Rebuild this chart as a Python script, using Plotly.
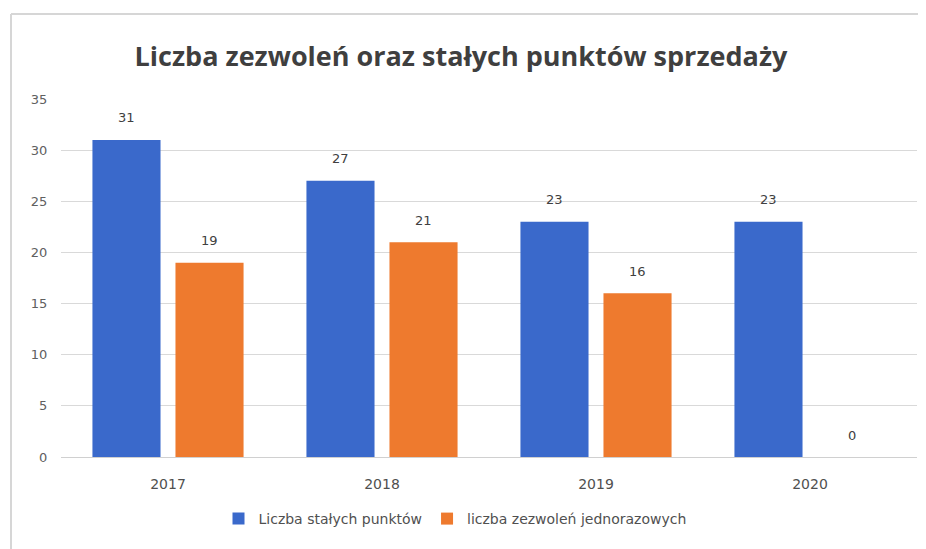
import plotly.graph_objects as go

years = ["2017", "2018", "2019", "2020"]
stale_punkty = [31, 27, 23, 23]
zezwolenia_jednorazowe = [19, 21, 16, 0]
series_names = ["Liczba stałych punktów", "liczba zezwoleń jednorazowych"]
title_text = "Liczba zezwoleń oraz stałych punktów sprzedaży"
y_ticks = [0, 5, 10, 15, 20, 25, 30, 35]

W, H = 926, 549
OFF = 8  # page body margin offset
# target pixel positions in screenshot
PL, PR, PT, PB = 61, 917, 99, 457
ML = PL - OFF
MT = PT - OFF
MR = W - (PR - OFF)
MB = H - (PB - OFF)

BARGAP = 0.224
BARGROUPGAP = 0.18

fig = go.Figure()
colors = ["#3A69CB", "#EE7A2E"]
for name, vals, col in zip(series_names, [stale_punkty, zezwolenia_jednorazowe], colors):
    fig.add_trace(go.Bar(
        x=years, y=vals, name=name,
        marker=dict(color=col, line=dict(width=0)),
    ))

pw = W - ML - MR
ph = H - MT - MB
def px_to_paper_x(px):
    return (px - OFF - ML) / pw
def px_to_paper_y(py):
    return (H - MB - (py - OFF)) / ph

# data labels above bars (x given as category index)
cat_w = pw / len(years)
slot = cat_w * (1 - BARGAP) / 2
annotations = []
for i, vals in enumerate([stale_punkty, zezwolenia_jednorazowe]):
    shift = (i - 0.5) * slot
    for j, v in enumerate(vals):
        annotations.append(dict(
            x=j, y=v, xref="x", yref="y", text=str(v), showarrow=False,
            xshift=shift, yshift=22, yanchor="middle",
            font=dict(family="DejaVu Sans", size=13, color="#404040"),
        ))

fig.update_layout(
    width=W, height=H,
    margin=dict(l=ML, r=MR, t=MT, b=MB),
    paper_bgcolor="white", plot_bgcolor="white",
    barmode="group", bargap=BARGAP, bargroupgap=BARGROUPGAP,
    title=dict(text="<b>" + title_text + "</b>", x=(461 - OFF) / W, xanchor="center",
               y=1 - (57 - OFF) / H, yanchor="middle",
               font=dict(family="Open Sans", size=27, color="#3F3F3F")),
    font=dict(family="DejaVu Sans", size=12, color="#595959"),
    xaxis=dict(type="category", categoryorder="array", categoryarray=years,
               range=[-0.5, len(years) - 0.5],
               showgrid=False, showline=False, ticks="outside", ticklen=14, tickcolor="rgba(0,0,0,0)",
               tickfont=dict(family="DejaVu Sans", size=14, color="#505050")),
    yaxis=dict(range=[0, 35], tickvals=y_ticks, showgrid=True, gridcolor="#D9D9D9",
               gridwidth=1, zeroline=True, zerolinecolor="#D0D0D0", zerolinewidth=1,
               showline=False, ticks="outside", ticklen=10, tickcolor="rgba(0,0,0,0)",
               tickfont=dict(family="DejaVu Sans", size=13, color="#606060")),
    legend=dict(orientation="h", x=px_to_paper_x(455), xanchor="center",
                y=px_to_paper_y(519), yanchor="middle",
                font=dict(family="DejaVu Sans", size=14, color="#505050"),
                itemwidth=30, traceorder="normal"),
    showlegend=True,
    annotations=annotations,
    shapes=[
        dict(type="line", xref="paper", yref="paper",
             x0=px_to_paper_x(11), x1=px_to_paper_x(W + 20), y0=px_to_paper_y(14), y1=px_to_paper_y(14),
             line=dict(color="#D6D6D6", width=2)),
        dict(type="line", xref="paper", yref="paper",
             x0=px_to_paper_x(11), x1=px_to_paper_x(11), y0=px_to_paper_y(14), y1=px_to_paper_y(H + 20),
             line=dict(color="#D6D6D6", width=2)),
    ],
)

fig.write_html("out.html")
